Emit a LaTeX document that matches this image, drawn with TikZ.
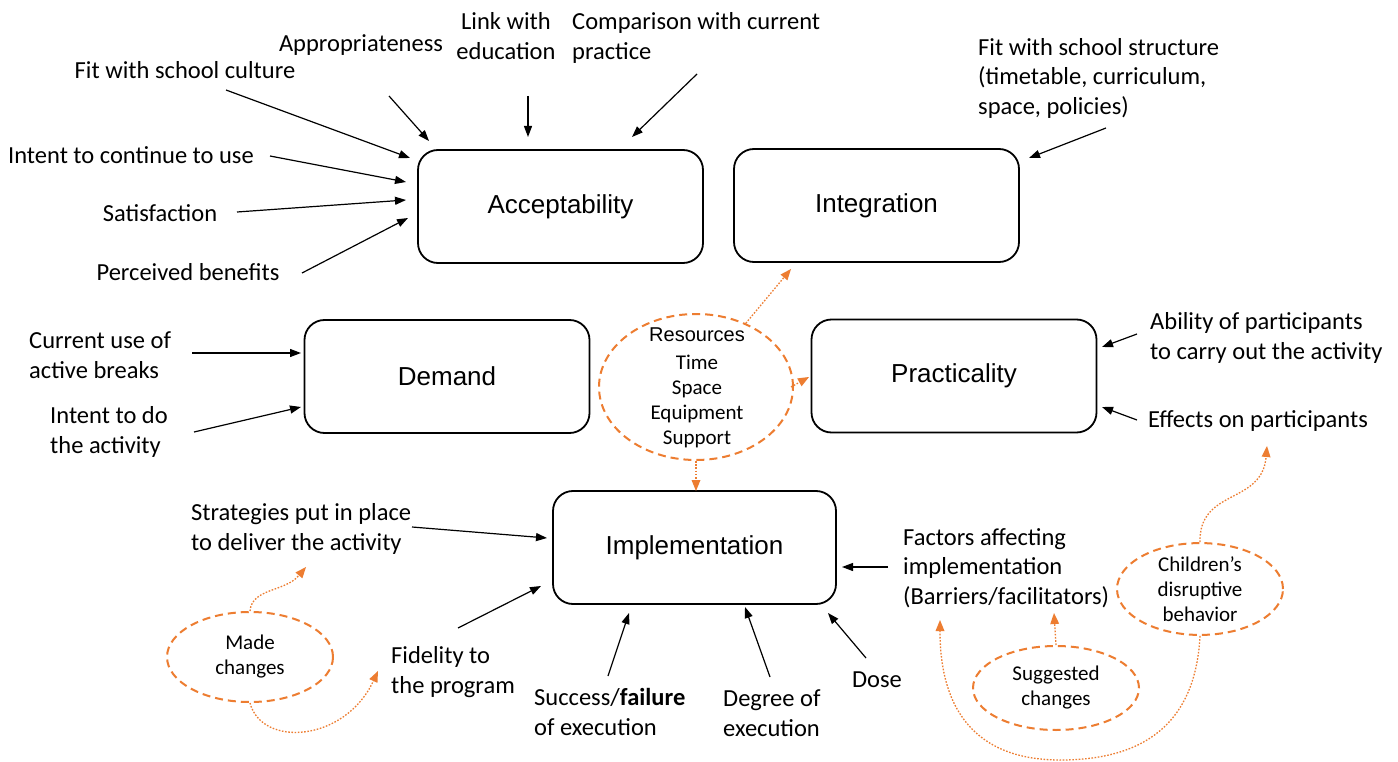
\documentclass[tikz,border=0pt]{standalone}
\usepackage{fontspec}
\setmainfont{Carlito}
\newfontfamily\arialf{Liberation Sans}
\usetikzlibrary{arrows.meta,shapes.geometric}
\definecolor{org}{RGB}{237,125,49}
\newcommand\labfont{\fontsize{24.5}{29.5}\selectfont}
\newcommand\elfont{\fontsize{21}{25}\selectfont}
\tikzset{
  box/.style={draw, rounded corners=20pt, line width=1.8pt, minimum width=285pt, minimum height=113pt,
    font=\arialf\fontsize{26}{30}\selectfont, inner sep=0pt},
  lab/.style={font=\labfont, inner sep=0pt, align=left},
  arr/.style={line width=1.2pt, -{Triangle[length=11pt,width=8pt]}},
  oell/.style={draw=org, ellipse, dash pattern=on 8pt off 5pt, line width=2pt, inner sep=0pt,
    font=\elfont, align=center},
  oarr/.style={draw=org, line width=1.3pt, dash pattern=on 1.6pt off 1.6pt,
    -{Triangle[length=11pt,width=9pt,fill=org,line width=0pt,sep=0pt]}, color=org}
}
\begin{document}
\begin{tikzpicture}[x=1pt,y=-1pt]
\useasboundingbox[fill=white] (0,0) rectangle (1398,762);
% boxes
\node[box] (acc) at (560.5,206.5) {Acceptability};
\node[box] (integ) at (876.5,205.5) {Integration};
\node[box] (dem) at (447,376.5) {Demand};
\node[box] (prac) at (954,376) {Practicality};
\node[box, minimum width=283pt] (impl) at (694.5,547.5) {Implementation};
% labels
\node[lab] (appr) at (361,45) {Appropriateness};
\node[lab] (fitc) at (185,70) {Fit with school culture};
\node[lab, align=center] (link) at (506,36) {Link with\\education};
\node[lab, anchor=west] (comp) at (572,38) {Comparison with current\\practice};
\node[lab] (intc) at (131,155) {Intent to continue to use};
\node[lab] (sat) at (160,213) {Satisfaction};
\node[lab] (perc) at (188,272) {Perceived benefits};
\node[lab, anchor=west] (fits) at (978,78) {Fit with school structure\\(timetable, curriculum,\\space, policies)};
\node[lab, anchor=west] (curr) at (29,355) {Current use of\\active breaks};
\node[lab, anchor=west] (intd) at (50,432) {Intent to do\\the activity};
\node[lab, anchor=west] (abil) at (1150,338) {Ability of participants\\to carry out the activity};
\node[lab] (eff) at (1258,421) {Effects on participants};
\node[lab, anchor=west] (strat) at (191,529) {Strategies put in place\\to deliver the activity};
\node[lab, anchor=west] (fid) at (391,672) {Fidelity to\\the program};
\node[lab, anchor=west] (succ) at (534,712) {Success/\textbf{failure}\\of execution};
\node[lab, anchor=west] (deg) at (723,713) {Degree of\\execution};
\node[lab] (dose) at (877,680) {Dose};
\node[lab, anchor=west] (fact) at (903,568) {Factors affecting\\implementation\\(Barriers/facilitators)};
% black arrow coordinates
\coordinate (apprS) at (389,96);  \coordinate (apprT) at (429,141);
\coordinate (fitcS) at (226,90);  \coordinate (fitcT) at (410,158);
\coordinate (linkS) at (528,96);  \coordinate (linkT) at (528,137);
\coordinate (compS) at (697,74);  \coordinate (compT) at (632,137);
\coordinate (intcS) at (270,156); \coordinate (intcT) at (406,182);
\coordinate (satS) at (237,212);  \coordinate (satT) at (406,200);
\coordinate (percS) at (302,273); \coordinate (percT) at (408,218);
\coordinate (fitsS) at (1106,128); \coordinate (fitsT) at (1029,158);
\coordinate (currS) at (192,353); \coordinate (currT) at (301,353);
\coordinate (intdS) at (194,432); \coordinate (intdT) at (301,407);
\coordinate (abilS) at (1137,334); \coordinate (abilT) at (1102,347);
\coordinate (effS) at (1137,420); \coordinate (effT) at (1102,407);
\coordinate (stratS) at (412,527); \coordinate (stratT) at (547,538);
\coordinate (fidS) at (458,628); \coordinate (fidT) at (541,586);
\coordinate (succS) at (608,676); \coordinate (succT) at (629,613);
\coordinate (degS) at (770,677); \coordinate (degT) at (745,607);
\coordinate (doseS) at (866,658); \coordinate (doseT) at (828,613);
\coordinate (factS) at (888,567); \coordinate (factT) at (842,567);
\foreach \n in {appr,fitc,link,comp,intc,sat,perc,fits,curr,intd,abil,eff,strat,fid,succ,deg,dose,fact}
  \draw[arr] (\n S) -- (\n T);
% orange ellipses
\node[oell, minimum width=194pt, minimum height=146pt] (res) at (696,387) {};
\node[font=\arialf\fontsize{20}{24}\selectfont, inner sep=0pt] (resT) at (697,335) {Resources};
\node[font=\elfont, align=center, inner sep=0pt] (resL) at (697,401) {Time\\Space\\Equipment\\Support};
\node[oell, minimum width=166pt, minimum height=90pt] (made) at (250,657) {Made\\changes};
\node[oell, minimum width=166pt, minimum height=84pt] (sugg) at (1056,688) {Suggested\\changes};
\node[oell, minimum width=166pt, minimum height=88pt] (child) at (1200,589) {Children’s\\disruptive\\behavior};
% orange dotted arrows
\coordinate (resIT) at (791,269);
\coordinate (resPT) at (809,377);
\coordinate (resMT) at (696,491);
\coordinate (madeST) at (306,567);
\coordinate (madeFT) at (378,671);
\coordinate (suggT) at (1054,613);
\coordinate (childET) at (1267,446);
\coordinate (childFT) at (940,620);
\draw[oarr] (res.52) -- (resIT);
\draw[oarr] (res.east) ++(-3,0) -- (resPT);
\draw[oarr] (res.south) -- (resMT);
\draw[oarr] (made.north) .. controls (252,588) and (285,592) .. (madeST);
\draw[oarr] (made.south) .. controls (262,748) and (345,742) .. (madeFT);
\draw[oarr] (sugg.north) -- (suggT);
\draw[oarr] (child.north) .. controls (1199,488) and (1262,505) .. (childET);
\draw[oarr] (child.south) .. controls (1195,735) and (1130,760) .. (1060,760)
   .. controls (985,760) and (940,720) .. (childFT);
\end{tikzpicture}
\end{document}
